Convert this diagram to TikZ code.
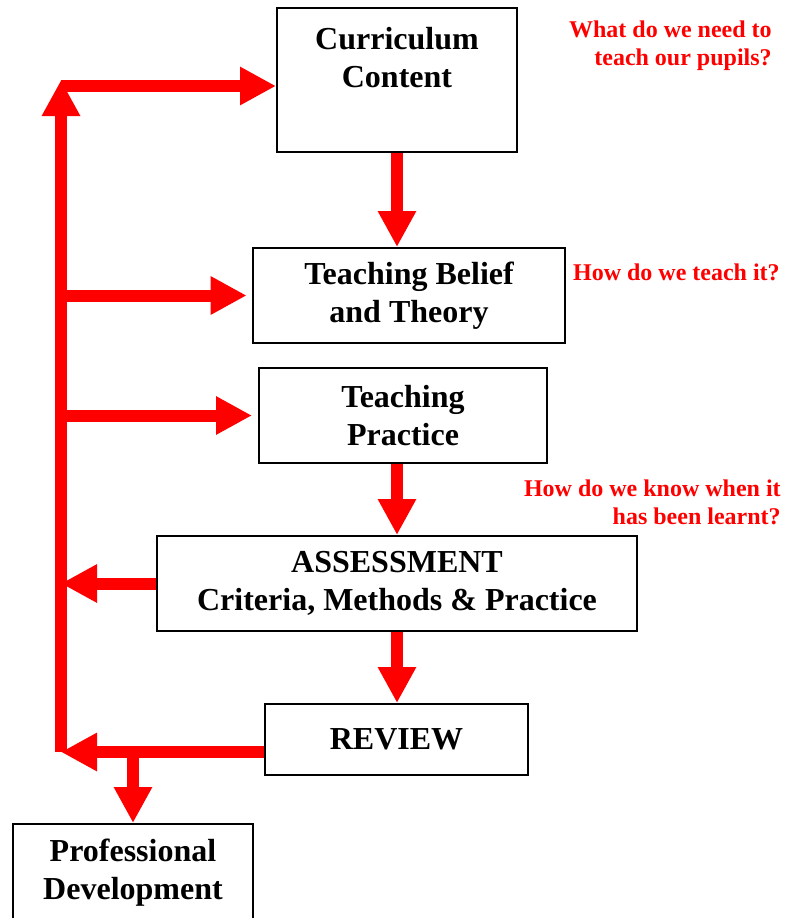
\documentclass[tikz,border=0pt]{standalone}
\usepackage{fontspec}
\setmainfont{Liberation Serif}
\usetikzlibrary{arrows.meta, positioning}

\begin{document}
\begin{tikzpicture}
		[   x=0.75pt,y=-0.75pt,
		    box/.style={draw=black,line width=1.5pt,fill=white,align=center,inner sep=0pt,
		                font=\bfseries\fontsize{24}{28.5}\selectfont},
		    note/.style={text=red,align=right,inner sep=0pt,
		                font=\bfseries\fontsize{18}{21}\selectfont},
		]
		\tikzset{red arrow/.style={draw=red,line width=9pt,-{Triangle[length=27pt,width=27pt]}}}
		\useasboundingbox (0,0) rectangle (798,918);
		
		\node[box,minimum width=180pt,minimum height=108pt] (cc) at (397,80) {Curriculum\\Content\\[6pt]\mbox{}};
		\node[box,minimum width=234pt,minimum height=71.25pt] (tb) at (409,295.5) {Teaching Belief\\and Theory};
		\node[box,minimum width=216pt,minimum height=71.25pt] (tp) at (403,415.5) {Teaching\\Practice};
		\node[box,minimum width=360pt,minimum height=71.25pt] (as) at (397,583.5) {ASSESSMENT\\Criteria, Methods \& Practice};
		\node[box,minimum width=197.25pt,minimum height=53.25pt] (rv) at (396.5,739.5) {REVIEW};
		\node[box,minimum width=180pt,minimum height=73.5pt] (pd) at (133,873) {Professional\\Development};
		
		% questions on the right
		\node[note,anchor=east] (q-1) at (772,46) {What do we need to\\teach our pupils?};
		\node[note,anchor=east] (q-2) at (780,272) {How do we teach it?};
		\node[note,anchor=east] (q-3) at (781,502) {How do we know when it\\has been learnt?};
		
		\coordinate (top) at (61,80);
		\coordinate (bot) at (61,752);
		\coordinate (corner) at (61,86);
		
		% down the middle
		\path[red arrow] (cc.south) -- (cc.south |- tb.north);
		\path[red arrow] (as.north |- tp.south) -- (as.north);
		\path[red arrow] (as.south) -- (as.south |- rv.north);
		
		% feedback loop
		\path[red arrow] (bot) -- (top);
		\path[red arrow] (corner) -- (corner -| cc.west);
		\path[red arrow,shorten >=4pt] (bot |- tb.west) -- (tb.west);
		\path[red arrow,shorten >=4.5pt] (bot |- tp.west) -- (tp.west);
		\path[red arrow] (as.west) -- (bot |- as.west);
		\path[red arrow] (rv.west |- bot) -- (bot);
		\path[red arrow] (bot -| pd.north) -- (pd.north);
		\end{tikzpicture}
\end{document}
